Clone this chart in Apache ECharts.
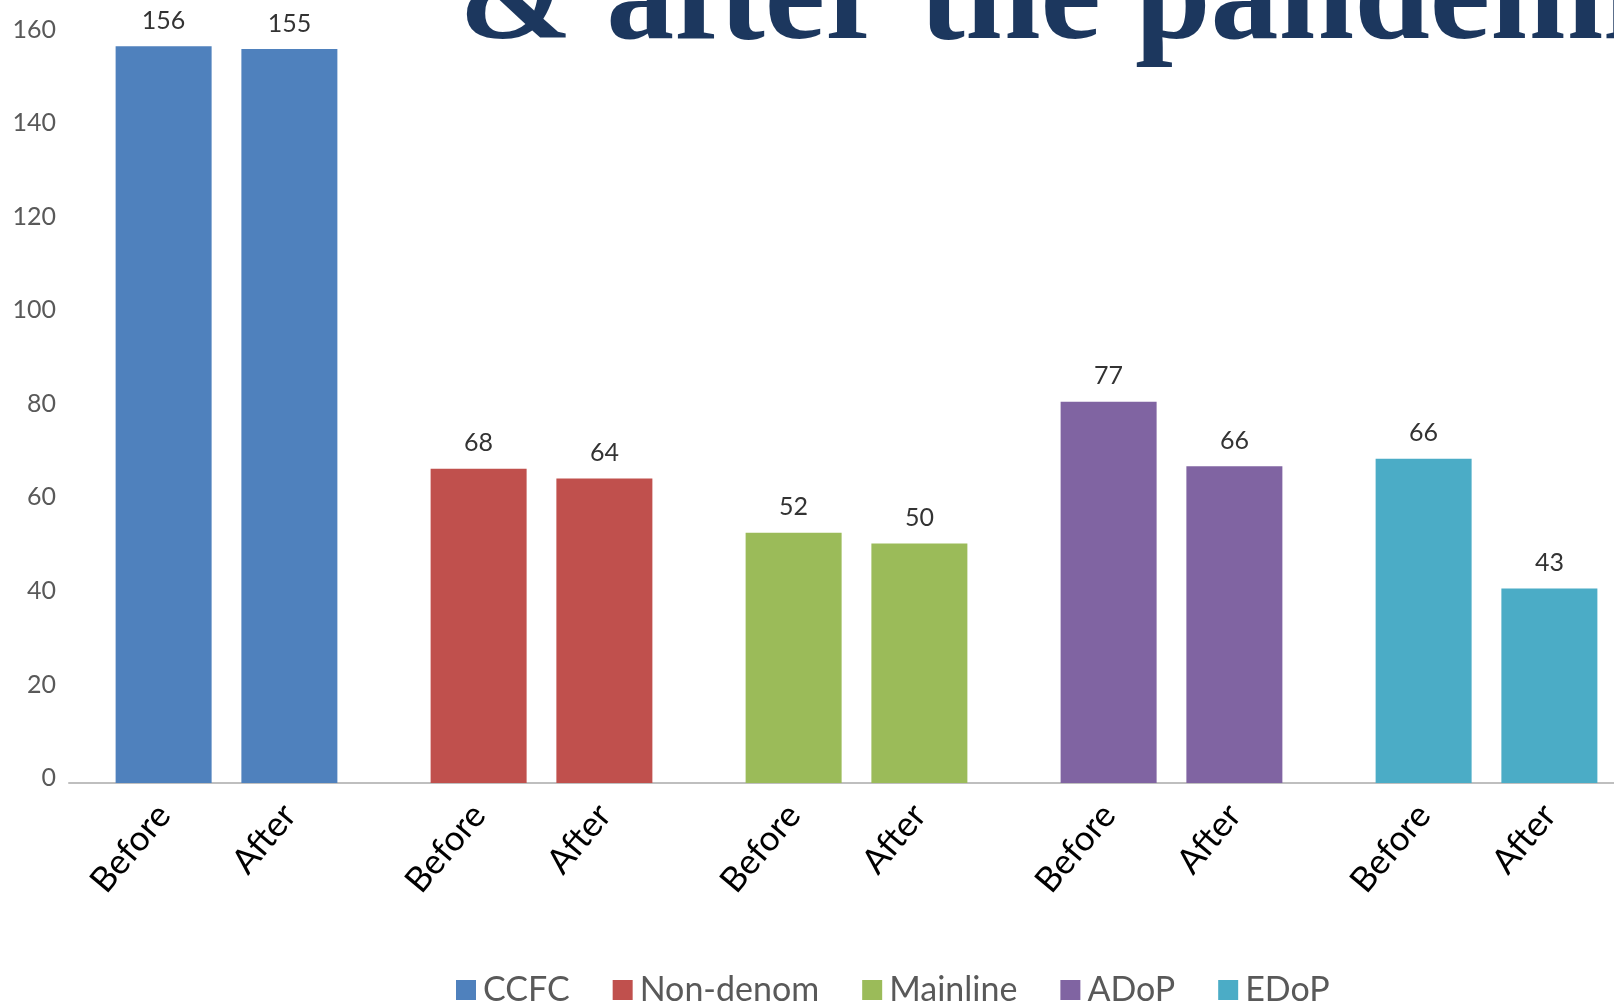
<!DOCTYPE html>
<html>
<head>
<meta charset="utf-8">
<script src="https://cdn.jsdelivr.net/npm/echarts@6/dist/echarts.min.js"></script>
<style>
html,body{margin:0;padding:0;background:#fff;overflow:hidden;}
#chart{width:1650px;height:1004px;}
</style>
</head>
<body>
<div id="chart"></div>
<script>
// ---- data ----
const groups = ['CCFC', 'Non-denom', 'Mainline', 'ADoP', 'EDoP'];
const groupColors = ['#4f81bd', '#c0504d', '#9bbb59', '#8064a2', '#4bacc6'];
const periods = ['Before', 'After'];
// bar heights as drawn
const beforeValues = [157.5, 67.2, 53.5, 81.5, 69.3];
const afterValues = [156.9, 65.1, 51.2, 67.7, 41.6];
// printed data labels
const beforeLabels = ['156', '68', '52', '77', '66'];
const afterLabels = ['155', '64', '50', '66', '43'];
const baseZeros = [0, 0, 0, 0, 0];
const yMin = 0, yMax = 160, yStep = 20;
const titleText = '& after the pandemic';

const chart = echarts.init(document.getElementById('chart'), null, {renderer: 'canvas'});

const FONT = 'Lato';
function colored(vals) {
  return vals.map((v, i) => ({value: v, itemStyle: {color: groupColors[i]}}));
}
const barCommon = {type: 'bar', barWidth: 96, barGap: '31%', emphasis: {disabled: true}};
function periodLabelSeries(idx) {
  return Object.assign({}, barCommon, {
    name: periods[idx] + ' label',
    stack: periods[idx],
    data: baseZeros.slice(),
    itemStyle: {color: 'transparent'},
    label: {
      show: true, position: 'bottom', distance: 26, rotate: 50,
      align: 'right', verticalAlign: 'middle',
      formatter: () => periods[idx],
      fontFamily: FONT, fontSize: 35, color: '#000'
    }
  });
}
function valueSeries(idx, vals, labels) {
  return Object.assign({}, barCommon, {
    name: periods[idx],
    stack: periods[idx],
    data: colored(vals),
    label: {
      show: true, position: 'top', distance: 13,
      formatter: p => labels[p.dataIndex],
      fontFamily: FONT, fontSize: 25, color: '#333'
    }
  });
}

const legendSeries = groups.map((g, i) => ({
  name: g, type: 'line', data: [],
  itemStyle: {color: groupColors[i]}, lineStyle: {color: groupColors[i]}
}));

const option = {
  animation: false,
  backgroundColor: '#fff',
  grid: {left: 69, right: 6, top: 34.5, bottom: 221, containLabel: false},
  xAxis: {
    type: 'category', data: groups,
    axisLine: {lineStyle: {color: '#bfbfbf', width: 2}},
    axisTick: {show: false},
    axisLabel: {show: false}
  },
  yAxis: {
    type: 'value', min: yMin, max: yMax, interval: yStep,
    splitLine: {show: false},
    axisLine: {show: false}, axisTick: {show: false},
    axisLabel: {fontFamily: FONT, fontSize: 25, color: '#595959', margin: 13,
                verticalAlign: 'bottom', lineHeight: 10}
  },
  legend: {
    data: groups.map((g, i) => ({name: g, itemStyle: {color: groupColors[i]}})),
    icon: 'rect', itemWidth: 20, itemHeight: 20, itemGap: 43,
    left: 451, top: 968,
    textStyle: {fontFamily: FONT, fontSize: 34, color: '#595959', padding: [0, 0, 0, 2]}
  },
  graphic: [{
    type: 'text', x: 459, y: 3, silent: true,
    style: {
      text: titleText, align: 'left', verticalAlign: 'middle',
      font: 'bold 136px "Liberation Serif"', fill: '#1c375e'
    }
  }],
  series: [
    periodLabelSeries(0),
    valueSeries(0, beforeValues, beforeLabels),
    periodLabelSeries(1),
    valueSeries(1, afterValues, afterLabels)
  ].concat(legendSeries)
};
chart.setOption(option);
</script>
</body>
</html>
